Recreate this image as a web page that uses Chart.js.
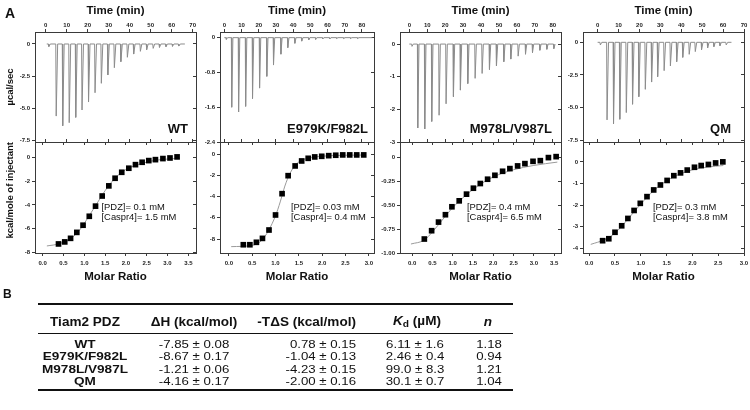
<!DOCTYPE html>
<html>
<head>
<meta charset="utf-8">
<title>Tiam2 PDZ ITC</title>
<script src="https://cdn.jsdelivr.net/npm/chart.js@4.4.1/dist/chart.umd.min.js"></script>
<style>
  html, body { margin: 0; padding: 0; background: #fff; }
  #fig { position: relative; width: 750px; height: 410px; overflow: hidden;
         font-family: Arial, "Liberation Sans", sans-serif; color: #111; }
  #fig canvas { position: absolute; }
  .t { position: absolute; white-space: nowrap; line-height: 1; }
  .b { font-weight: bold; }
  .rule { position: absolute; left: 38px; width: 475px; background: #111; }
</style>
</head>
<body>
<div id="fig"></div>
<script>
// ---- values ----

// raw heats: injection time (min), peak (ucal/sec), baseline start/end (min)
const wtInjTime = [1.3, 4.8, 7.9, 11.0, 14.1, 17.1, 20.2, 23.3, 26.3, 29.4, 32.5, 35.6, 38.7, 41.7, 44.9, 47.9, 51.0, 54.0, 57.1, 60.2, 63.2];
const wtInjPeak = [-0.2, -5.59, -6.34, -6.1, -5.69, -5.12, -4.5, -3.78, -3.05, -2.4, -1.84, -1.37, -1.03, -0.78, -0.57, -0.44, -0.34, -0.26, -0.21, -0.18, -0.16];
const wtBaseline = [0.5, 66.3];

const e979InjTime = [1.0, 4.1, 8.1, 12.2, 16.2, 20.3, 24.5, 28.4, 32.7, 36.7, 40.8, 44.8, 48.9, 52.9, 57.0, 61.1, 65.1, 69.2, 73.2, 77.3];
const e979InjPeak = [-0.04, -1.6, -1.71, -1.58, -1.4, -1.16, -0.89, -0.63, -0.38, -0.23, -0.13, -0.08, -0.05, -0.04, -0.03, -0.03, -0.02, -0.02, -0.02, -0.02];
const e979Baseline = [0, 86];

const m978InjTime = [1.3, 4.5, 8.4, 12.3, 16.4, 20.3, 24.4, 28.3, 32.4, 36.5, 40.4, 44.5, 48.4, 52.5, 56.4, 60.5, 64.6, 68.5, 72.6, 76.5, 80.4];
const m978InjPeak = [-0.07, -2.57, -2.6, -2.37, -2.18, -1.83, -1.61, -1.41, -1.21, -1.05, -0.9, -0.78, -0.67, -0.54, -0.46, -0.37, -0.31, -0.26, -0.19, -0.16, -0.14];
const m978Baseline = [0, 81.5];

const qmInjTime = [1.1, 4.3, 7.4, 10.4, 13.5, 16.5, 19.5, 22.6, 25.6, 28.5, 31.6, 34.6, 37.6, 40.5, 43.6, 46.5, 49.5, 52.4, 55.4, 58.3, 61.3];
const qmInjPeak = [-0.2, -5.94, -6.25, -5.89, -5.38, -4.74, -4.16, -3.6, -3.04, -2.63, -2.17, -1.81, -1.48, -1.15, -0.92, -0.71, -0.56, -0.43, -0.33, -0.26, -0.2];
const qmBaseline = [0, 64];

// integrated heats: molar ratio vs kcal/mole of injectant
const wtRatio = [0.38, 0.53, 0.67, 0.82, 0.97, 1.12, 1.27, 1.43, 1.59, 1.74, 1.9, 2.07, 2.23, 2.39, 2.55, 2.71, 2.89, 3.06, 3.23];
const wtHeat = [-7.27, -7.1, -6.8, -6.3, -5.7, -4.95, -4.1, -3.25, -2.4, -1.76, -1.26, -0.92, -0.62, -0.42, -0.28, -0.2, -0.11, -0.06, 0.03];
const wtFitRatio = [0.1, 0.4, 0.7, 0.9, 1.1, 1.3, 1.5, 1.7, 1.9, 2.1, 2.4, 2.7, 3.0, 3.3];
const wtFitHeat = [-7.44, -7.25, -6.75, -6.05, -5.0, -3.9, -2.8, -1.9, -1.25, -0.85, -0.5, -0.26, -0.15, -0.08];

const e979Ratio = [0.31, 0.45, 0.59, 0.72, 0.86, 1.0, 1.14, 1.27, 1.42, 1.56, 1.7, 1.84, 1.99, 2.14, 2.29, 2.44, 2.59, 2.74, 2.89];
const e979Heat = [-8.54, -8.54, -8.31, -7.94, -7.15, -5.73, -3.72, -2.02, -1.1, -0.63, -0.38, -0.25, -0.19, -0.13, -0.09, -0.06, -0.06, -0.06, -0.06];
const e979FitRatio = [0.05, 0.5, 0.7, 0.85, 1.0, 1.1, 1.2, 1.3, 1.4, 1.5, 1.7, 2.0, 2.5, 2.9];
const e979FitHeat = [-8.72, -8.6, -8.15, -7.2, -5.8, -4.5, -3.0, -1.9, -1.15, -0.72, -0.36, -0.18, -0.09, -0.07];

const m978Ratio = [0.3, 0.48, 0.65, 0.82, 0.98, 1.16, 1.34, 1.51, 1.68, 1.86, 2.04, 2.23, 2.41, 2.6, 2.78, 2.98, 3.16, 3.36, 3.55];
const m978Heat = [-0.854, -0.767, -0.677, -0.6, -0.517, -0.455, -0.385, -0.323, -0.274, -0.229, -0.188, -0.146, -0.118, -0.09, -0.066, -0.042, -0.035, -0.003, 0.007];
const m978FitRatio = [-0.03, 0.3, 0.5, 0.8, 1.0, 1.3, 1.6, 2.0, 2.5, 3.0, 3.58];
const m978FitHeat = [-0.906, -0.865, -0.78, -0.625, -0.525, -0.405, -0.305, -0.205, -0.13, -0.085, -0.05];

const qmRatio = [0.26, 0.38, 0.5, 0.63, 0.75, 0.87, 0.99, 1.12, 1.25, 1.38, 1.51, 1.64, 1.77, 1.9, 2.04, 2.17, 2.31, 2.45, 2.59];
const qmHeat = [-3.65, -3.56, -3.26, -2.96, -2.62, -2.25, -1.92, -1.61, -1.3, -1.07, -0.86, -0.64, -0.51, -0.38, -0.25, -0.17, -0.12, -0.05, 0.0];
const qmFitRatio = [0.03, 0.3, 0.5, 0.75, 1.0, 1.25, 1.5, 1.75, 2.0, 2.3, 2.6];
const qmFitHeat = [-3.82, -3.6, -3.3, -2.65, -1.95, -1.33, -0.88, -0.57, -0.37, -0.24, -0.17];

// tick values
const timeTicks70 = [0, 10, 20, 30, 40, 50, 60, 70];
const timeTicks80 = [0, 10, 20, 30, 40, 50, 60, 70, 80];
const ratioTicks35 = [0, 0.5, 1, 1.5, 2, 2.5, 3, 3.5];
const ratioTicks30 = [0, 0.5, 1, 1.5, 2, 2.5, 3];
const wtRawTicks = [0, -2.5, -5, -7.5];
const e979RawTicks = [0, -0.8, -1.6, -2.4];
const m978RawTicks = [0, -1, -2, -3];
const qmRawTicks = [0, -2.5, -5, -7.5];
const wtHeatTicks = [0, -2, -4, -6, -8];
const e979HeatTicks = [0, -2, -4, -6, -8];
const m978HeatTicks = [0, -0.25, -0.5, -0.75, -1];
const qmHeatTicks = [0, -1, -2, -3, -4];

// panel B
const constructs = ['WT', 'E979K/F982L', 'M978L/V987L', 'QM'];
const deltaH = ['-7.85 ± 0.08', '-8.67 ± 0.17', '-1.21 ± 0.06', '-4.16 ± 0.17'];
const minusTdS = ['0.78 ± 0.15', '-1.04 ± 0.13', '-4.23 ± 0.15', '-2.00 ± 0.16'];
const kd = ['6.11 ± 1.6', '2.46 ± 0.4', '99.0 ± 8.3', '30.1 ± 0.7'];
const stoich = ['1.18', '0.94', '1.21', '1.04'];

// ---- layout ----
const panels = [
  { name: 'WT', L: 35, R: 196, yw: 35, nameRight: 188,
    raw: { t: wtInjTime, p: wtInjPeak, span: wtBaseline, x: [-5.1, 71.6], y: [-7.6, 0.93], xt: timeTicks70, yt: wtRawTicks, yd: 1 },
    iso: { r: wtRatio, h: wtHeat, fr: wtFitRatio, fh: wtFitHeat, x: [-0.185, 3.685], y: [-8.03, 1.28], xt: ratioTicks35, yt: wtHeatTicks, yd: 0 },
    conc: ['[PDZ]= 0.1 mM', '[Caspr4]= 1.5 mM'], concX: 101.5 },
  { name: 'E979K/F982L', L: 220, R: 374, yw: 24, nameRight: 368,
    raw: { t: e979InjTime, p: e979InjPeak, span: e979Baseline, x: [-2.5, 87], y: [-2.4, 0.13], xt: timeTicks80, yt: e979RawTicks, yd: 1 },
    iso: { r: e979Ratio, h: e979Heat, fr: e979FitRatio, fh: e979FitHeat, x: [-0.19, 3.11], y: [-9.32, 1.16], xt: ratioTicks30, yt: e979HeatTicks, yd: 0 },
    conc: ['[PDZ]= 0.03 mM', '[Caspr4]= 0.4 mM'], concX: 291 },
  { name: 'M978L/V987L', L: 400, R: 561, yw: 24, nameRight: 552,
    raw: { t: m978InjTime, p: m978InjPeak, span: m978Baseline, x: [-5.2, 84.6], y: [-3.0, 0.37], xt: timeTicks80, yt: m978RawTicks, yd: 0 },
    iso: { r: m978Ratio, h: m978Heat, fr: m978FitRatio, fh: m978FitHeat, x: [-0.3, 3.67], y: [-1.0, 0.16], xt: ratioTicks35, yt: m978HeatTicks, yd: 2 },
    conc: ['[PDZ]= 0.4 mM', '[Caspr4]= 6.5 mM'], concX: 467 },
  { name: 'QM', L: 583, R: 744, yw: 24, nameRight: 731,
    raw: { t: qmInjTime, p: qmInjPeak, span: qmBaseline, x: [-7.0, 70], y: [-7.63, 0.79], xt: timeTicks70, yt: qmRawTicks, yd: 1 },
    iso: { r: qmRatio, h: qmHeat, fr: qmFitRatio, fh: qmFitHeat, x: [-0.12, 3.0], y: [-4.22, 0.92], xt: ratioTicks30, yt: qmHeatTicks, yd: 0 },
    conc: ['[PDZ]= 0.3 mM', '[Caspr4]= 3.8 mM'], concX: 653 }
];

const fig = document.getElementById('fig');
const FONT = 'Arial, "Liberation Sans", sans-serif';
const INK = '#3a3a3a';

function addCanvas(left, top, width, height) {
  const c = document.createElement('canvas');
  c.width = width; c.height = height;
  c.style.left = left + 'px'; c.style.top = top + 'px';
  c.style.width = width + 'px'; c.style.height = height + 'px';
  fig.appendChild(c);
  return c;
}

function text(html, x, y, opts) {
  const d = document.createElement('div');
  d.className = 't' + (opts.bold ? ' b' : '');
  d.innerHTML = html;
  d.style.left = x + 'px';
  d.style.top = y + 'px';
  d.style.fontSize = opts.size + 'px';
  const dx = opts.align === 'center' ? '-50%' : opts.align === 'right' ? '-100%' : '0';
  const ox = opts.align === 'center' ? '50%' : opts.align === 'right' ? '100%' : '0';
  d.style.transformOrigin = ox + ' 50%';
  d.style.transform = 'translate(' + dx + ',-50%) scaleX(' + (opts.sx || 1) + ')';
  fig.appendChild(d);
}

// pin every axis box to a fixed size so the plot frames line up with the figure
function pin(size) {
  return s => {
    if (s.isHorizontal()) s.height = size; else s.width = size;
    s.paddingLeft = s.paddingRight = s.paddingTop = s.paddingBottom = 0;
  };
}

function axis(pos, range, ticks, size, tick, fmt, pad, title) {
  return {
    type: 'linear',
    axis: (pos === 'top' || pos === 'bottom') ? 'x' : 'y',
    position: pos,
    min: range[0], max: range[1],
    afterBuildTicks: s => { s.ticks = ticks.map(v => ({ value: v })); },
    afterFit: pin(size),
    border: { display: true, color: INK, width: 1 },
    grid: { drawOnChartArea: false, drawTicks: true, tickLength: tick, color: INK, lineWidth: 1 },
    ticks: {
      display: !!fmt, autoSkip: false, maxRotation: 0, padding: pad || 0, color: '#222',
      font: { family: FONT, size: 6, weight: 'bold' },
      callback: fmt ? (v => fmt(v)) : (() => '')
    },
    title: title || { display: false }
  };
}

const fmtY = d => v => v === 0 ? '0' : v.toFixed(d);
const fmtRatio = v => v.toFixed(1);
const fmtTime = v => String(v);

function axisTitle(txt, size, align, pad) {
  return { display: true, text: txt, align: align, color: '#111',
           font: { family: FONT, size: size, weight: 'bold' }, padding: pad };
}

// each injection: drop to its peak, then back to the baseline
function trace(times, peaks, span) {
  const pts = [{ x: span[0], y: 0 }];
  times.forEach((t, i) => {
    pts.push({ x: t, y: 0 }, { x: t + 0.2, y: peaks[i] }, { x: t + 0.9, y: 0 });
  });
  pts.push({ x: span[1], y: 0 });
  return pts;
}

function makeChart(canvas, datasets, scales) {
  return new Chart(canvas, {
    type: 'line',
    data: { datasets },
    options: {
      responsive: false, animation: false, devicePixelRatio: 1, events: [],
      layout: { padding: 0 },
      plugins: { legend: { display: false }, tooltip: { enabled: false } },
      scales
    }
  });
}

panels.forEach((p, i) => {
  const left = p.L - p.yw;
  const width = p.yw + (p.R - p.L) + 6;

  // raw thermogram
  const top = addCanvas(left, 0, width, 147);
  makeChart(top, [{
    data: trace(p.raw.t, p.raw.p, p.raw.span),
    borderColor: '#8c8c8c', borderWidth: 1, pointRadius: 0, tension: 0
  }], {
    x: axis('top', p.raw.x, p.raw.xt, 32, 3, fmtTime, 0,
            axisTitle('Time (min)', 11.5, 'center', { top: 4, bottom: 0 })),
    x2: axis('bottom', p.raw.x, p.raw.xt, 5, -3),
    y: axis('left', p.raw.y, p.raw.yt, p.yw, 3, fmtY(p.raw.yd), 2,
            i === 0 ? axisTitle('\u00b5cal/sec', 9.5, 'center', { top: 4.3, bottom: 0 }) : null),
    y2: axis('right', p.raw.y, p.raw.yt, 6, -3)
  });

  // binding isotherm
  const bot = addCanvas(left, 138, width, 150);
  makeChart(bot, [{
    data: p.iso.r.map((r, k) => ({ x: r, y: p.iso.h[k] })),
    showLine: false, pointStyle: 'rect', pointRadius: 4,
    pointBackgroundColor: '#000', pointBorderWidth: 0
  }, {
    data: p.iso.fr.map((r, k) => ({ x: r, y: p.iso.fh[k] })),
    borderColor: '#9a9a9a', borderWidth: 1, pointRadius: 0,
    cubicInterpolationMode: 'monotone'
  }], {
    x: axis('bottom', p.iso.x, p.iso.xt, 35, 3, fmtRatio, 4,
            axisTitle('Molar Ratio', 11.5, 'center', { top: 0, bottom: 4 })),
    x2: axis('top', p.iso.x, p.iso.xt, 4, -3),
    y: axis('left', p.iso.y, p.iso.yt, p.yw, 3, fmtY(p.iso.yd), 2,
            i === 0 ? axisTitle('kcal/mole of injectant', 9.5, 'end', { top: 4.3, bottom: 0 }) : null),
    y2: axis('right', p.iso.y, p.iso.yt, 6, -3)
  });

  text(p.name, p.nameRight, 127.7, { size: 13, bold: true, align: 'right' });
  text(p.conc[0], p.concX, 206.5, { size: 9.4, align: 'left' });
  text(p.conc[1], p.concX, 217.3, { size: 9.4, align: 'left' });
});

text('A', 5, 13, { size: 14, bold: true, align: 'left' });
text('B', 3, 294, { size: 12, bold: true, align: 'left' });

// ---- panel B table ----
function rule(y, h) {
  const d = document.createElement('div');
  d.className = 'rule';
  d.style.top = (y - h / 2) + 'px';
  d.style.height = h + 'px';
  fig.appendChild(d);
}
rule(304, 2);
rule(333.3, 1.3);
rule(390, 2);

const headY = 322.3;
const head = { size: 12, bold: true, sx: 1.13 };
text('Tiam2 PDZ', 84.7, headY, Object.assign({ align: 'center' }, head));
text('\u0394H (kcal/mol)', 194.3, headY, Object.assign({ align: 'center' }, head));
text('-T\u0394S (kcal/mol)', 356, headY, Object.assign({ align: 'right' }, head));
text('<i>K</i><sub style="font-size:9px;vertical-align:-2px">d</sub> (\u00b5M)', 416.5, headY, Object.assign({ align: 'center' }, head));
text('<i>n</i>', 488.3, headY, Object.assign({ align: 'center' }, head));

const rowY = [344.5, 357.2, 369.8, 382.3];
constructs.forEach((c, k) => {
  const y = rowY[k];
  text(c, 84.7, y, { size: 11.5, bold: true, sx: 1.18, align: 'center' });
  text(deltaH[k], 194.3, y, { size: 11.5, sx: 1.15, align: 'center' });
  text(minusTdS[k], 356, y, { size: 11.5, sx: 1.15, align: 'right' });
  text(kd[k], 414.5, y, { size: 11.5, sx: 1.15, align: 'center' });
  text(stoich[k], 489, y, { size: 11.5, sx: 1.15, align: 'center' });
});
</script>
</body>
</html>
